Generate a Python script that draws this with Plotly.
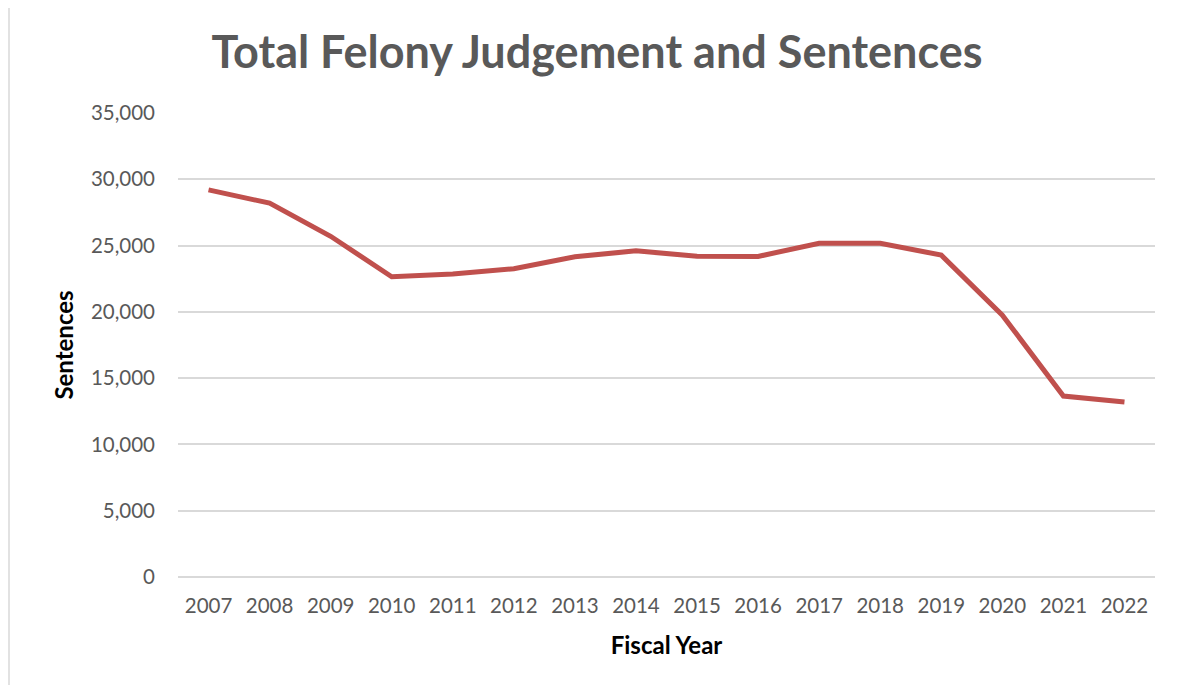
"""Total felony judgement and sentences by fiscal year."""

import plotly.graph_objects as go

years = ["2007", "2008", "2009", "2010", "2011", "2012", "2013", "2014",
         "2015", "2016", "2017", "2018", "2019", "2020", "2021", "2022"]
sentences = [29200, 28200, 25700, 22650, 22850, 23250, 24150, 24600,
             24200, 24180, 25180, 25180, 24280, 19750, 13650, 13200]
y_ticks = [0, 5000, 10000, 15000, 20000, 25000, 30000, 35000]

# the page puts the figure 8px in from the top-left corner
W, H = 1179, 685
ML, MR, MT, MB = 170, 32, 105, 116

fig = go.Figure()
fig.add_trace(
    go.Scatter(
        x=years,
        y=sentences,
        mode="lines",
        line={"color": "#C0504D", "width": 5},
        hoverinfo="x+y",
    )
)

pw = W - ML - MR
ph = H - MT - MB
# light frame: only the top and left edges are visible in the picture
fig.add_shape(
    type="rect", xref="paper", yref="paper",
    x0=(1 - ML) / pw, x1=(W + 20 - ML) / pw,
    y0=(H - MT - (H + 20)) / ph, y1=(H - MT - 1) / ph,
    line={"color": "#d9d9d9", "width": 1.5}, layer="below",
)

fig.update_layout(
    width=W,
    height=H,
    margin={"l": ML, "r": MR, "t": MT, "b": MB},
    paper_bgcolor="white",
    plot_bgcolor="white",
    showlegend=False,
    font={"family": "Lato, 'Open Sans', sans-serif", "color": "#595959"},
    title={
        "text": "<b>Total Felony Judgement and Sentences</b>",
        "x": 589 / W,
        "xanchor": "center",
        "y": 1 - 44 / H,
        "yanchor": "middle",
        "font": {"size": 45, "color": "#595959"},
    },
    xaxis={
        "type": "category",
        "range": [-0.5, len(years) - 0.5],
        "showgrid": False,
        "showline": False,
        "ticks": "",
        "ticklabelstandoff": 14,
        "tickfont": {"size": 20.5},
        "title": {"text": "<b>Fiscal Year</b>", "font": {"size": 24, "color": "black"}, "standoff": 21},
    },
    yaxis={
        "range": [0, 35000],
        "tickvals": y_ticks,
        "tickformat": ",",
        "gridcolor": "#d9d9d9",
        "gridwidth": 1.5,
        "zeroline": True,
        "zerolinecolor": "#d9d9d9",
        "zerolinewidth": 1.5,
        "showline": False,
        "ticks": "",
        "ticklabelstandoff": 22,
        "tickfont": {"size": 20.5},
        "title": {"text": "<b>Sentences</b>", "font": {"size": 24, "color": "black"}, "standoff": 10},
    },
)

fig.write_html("out.html")
